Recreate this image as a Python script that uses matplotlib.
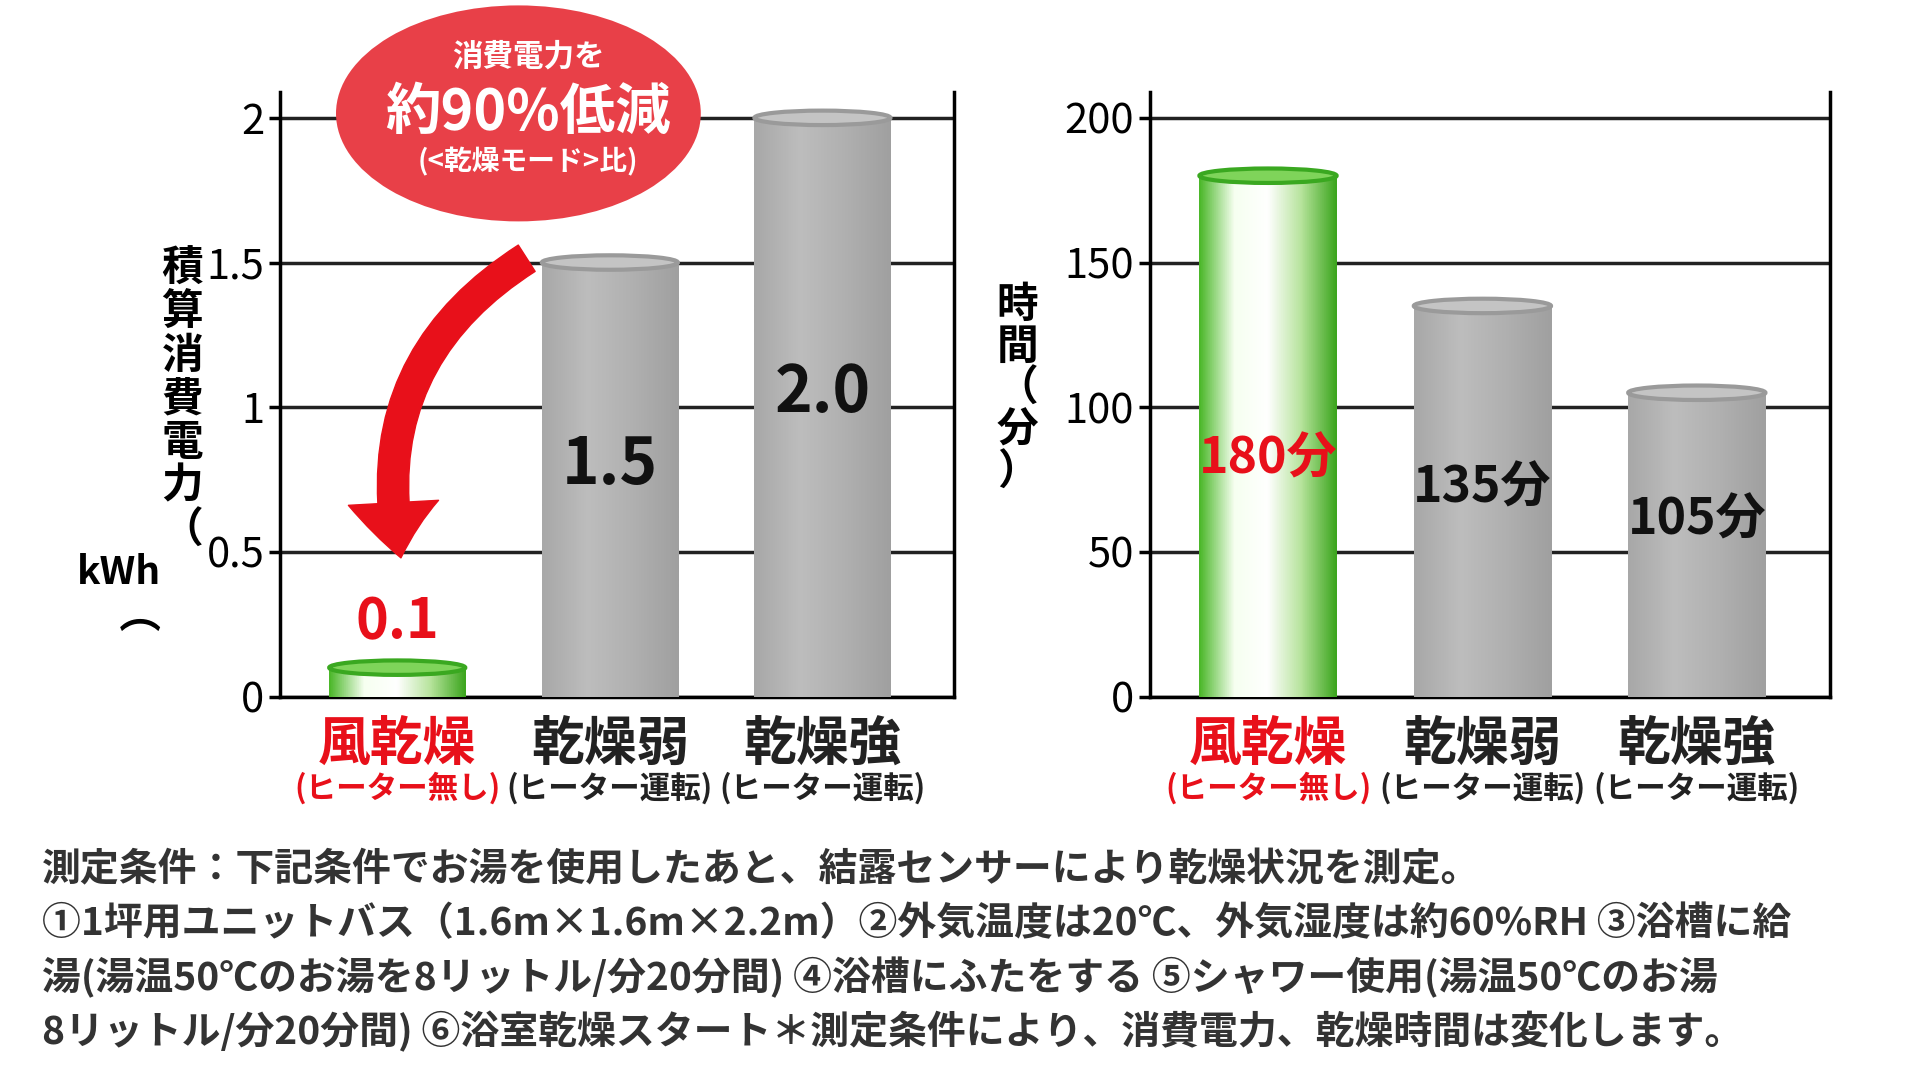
import numpy as np
import matplotlib.pyplot as plt
from matplotlib.patches import Ellipse, FancyArrowPatch

plt.rcParams['font.family'] = ['Noto Sans CJK JP', 'DejaVu Sans']

modes = ['風乾燥', '乾燥弱', '乾燥強']
sub_labels = ['(ヒーター無し)', '(ヒーター運転)', '(ヒーター運転)']
energy = [0.1, 1.5, 2.0]
energy_labels = ['0.1', '1.5', '2.0']
minutes = [180, 135, 105]
minute_labels = ['180分', '135分', '105分']
note_lines = [
    '測定条件：下記条件でお湯を使用したあと、結露センサーにより乾燥状況を測定。',
    '①1坪用ユニットバス（1.6m×1.6m×2.2m）②外気温度は20℃、外気湿度は約60%RH ③浴槽に給',
    '湯(湯温50℃のお湯を8リットル/分20分間) ④浴槽にふたをする ⑤シャワー使用(湯温50℃のお湯',
    '8リットル/分20分間) ⑥浴室乾燥スタート＊測定条件により、消費電力、乾燥時間は変化します。',
]

fig = plt.figure(figsize=(19.2, 10.8), dpi=100)

green = plt.cm.colors.LinearSegmentedColormap.from_list(
    'g', ['#4cb82a', '#f6fff0', '#ffffff', '#b5e39a', '#3da61f'])
gray = plt.cm.colors.LinearSegmentedColormap.from_list(
    'k', ['#a8a8a8', '#bdbdbd', '#b0b0b0', '#a0a0a0'])
grad = np.linspace(0, 1, 64).reshape(1, -1)


def draw_bars(ax, vals, ymax, cap):
    w = 0.64
    for i, v in enumerate(vals):
        cm = green if i == 0 else gray
        ax.imshow(grad, cmap=cm, extent=(i - w / 2, i + w / 2, 0, v),
                  aspect='auto', zorder=3)
        ec = '#3aa820' if i == 0 else '#9a9a9a'
        fc = '#7fd45a' if i == 0 else '#c4c4c4'
        ax.add_patch(Ellipse((i, v), w, cap, facecolor=fc, edgecolor=ec,
                             lw=3, zorder=4))
    ax.set_xlim(-0.55, 2.62)
    ax.set_ylim(0, ymax)
    ax.set_aspect('auto')


def style(ax, ticks, ticklabels):
    ax.set_yticks(ticks)
    ax.set_yticklabels(ticklabels, fontsize=30)
    ax.yaxis.grid(True, color='#222222', lw=2.5, zorder=1)
    ax.set_axisbelow(True)
    for s in ax.spines.values():
        s.set_linewidth(2.5)
    ax.spines['top'].set_visible(False)
    ax.set_xticks([])
    ax.tick_params(axis='y', length=8, width=2.5)
    for i, (m, s) in enumerate(zip(modes, sub_labels)):
        c = '#e8101a' if i == 0 else '#222222'
        ax.text(i, -0.035, m, transform=ax.get_xaxis_transform(), ha='center',
                va='top', fontsize=38, fontweight='bold', color=c)
        ax.text(i, -0.125, s, transform=ax.get_xaxis_transform(), ha='center',
                va='top', fontsize=22, fontweight='bold', color=c)


ax1 = fig.add_axes([0.146, 0.355, 0.351, 0.56])
draw_bars(ax1, energy, 2.09, 0.05)
style(ax1, [0, 0.5, 1, 1.5, 2], ['0', '0.5', '1', '1.5', '2'])
ax1.text(0, energy[0] + 0.06, energy_labels[0], ha='center', va='bottom',
         fontsize=40, fontweight='bold', color='#e8101a', zorder=5)
label_e = [None, 0.8, 1.05]
for i in (1, 2):
    ax1.text(i, label_e[i], energy_labels[i], ha='center',
             va='center', fontsize=46, fontweight='bold', color='#111111', zorder=5)
ax1.add_patch(FancyArrowPatch((0.62, 1.52), (0.02, 0.47),
                              connectionstyle='arc3,rad=0.35',
                              arrowstyle='simple,head_width=2.6,head_length=1.6,tail_width=0.9',
                              mutation_scale=25, color='#e8101a', zorder=6))
fig.text(0.095, 0.63, '積\n算\n消\n費\n電\n力\n（', ha='center', va='center',
         fontsize=30, fontweight='bold', linespacing=1.05)
fig.text(0.062, 0.47, 'kWh', ha='center', va='center', fontsize=28,
         fontweight='bold')
fig.text(0.075, 0.435, '）', ha='center', va='center', fontsize=30,
         rotation=90, fontweight='bold')

# speech bubble
fig.patches.append(Ellipse((0.27, 0.895), 0.19, 0.2, transform=fig.transFigure,
                           facecolor='#e84048', edgecolor='none', zorder=10))
fig.text(0.275, 0.948, '消費電力を', ha='center', va='center', fontsize=22,
         color='white', fontweight='bold', zorder=11)
fig.text(0.275, 0.895, '約90%低減', ha='center', va='center', fontsize=40,
         color='white', fontweight='bold', zorder=11)
fig.text(0.275, 0.85, '(<乾燥モード>比)', ha='center', va='center', fontsize=20,
         color='white', fontweight='bold', zorder=11)

ax2 = fig.add_axes([0.599, 0.355, 0.354, 0.56])
draw_bars(ax2, minutes, 209, 5)
style(ax2, [0, 50, 100, 150, 200], ['0', '50', '100', '150', '200'])
label_y = [82, 72, 61]
for i, lab in enumerate(minute_labels):
    c = '#e8101a' if i == 0 else '#111111'
    ax2.text(i, label_y[i], lab, ha='center', va='center', fontsize=36,
             fontweight='bold', color=c, zorder=5)
fig.text(0.53, 0.64, '時\n間\n（\n分\n）', ha='center', va='center',
         fontsize=30, fontweight='bold', linespacing=1.0)

for k, line in enumerate(note_lines):
    fig.text(0.022, 0.195 - k * 0.05, line, ha='left', va='center',
             fontsize=28, color='#333333', fontweight='bold')

fig.savefig('out.png', dpi=100)
